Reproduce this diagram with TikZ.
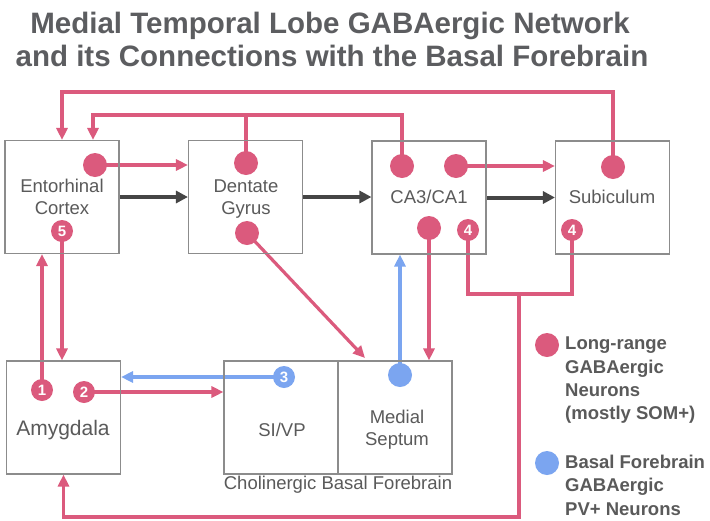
\documentclass[tikz,border=0pt]{standalone}
\usepackage{fontspec}
\setmainfont{Liberation Sans}
\usetikzlibrary{arrows.meta,calc}
\definecolor{gred}{HTML}{DB5A7D}
\definecolor{gblue}{HTML}{7BA5F0}
\definecolor{txt}{HTML}{5A5A5A}
\definecolor{ttl}{HTML}{5C5D60}
\definecolor{boxc}{HTML}{8C8C8C}
\definecolor{blk}{HTML}{454545}
\pgfdeclarelayer{bg}
\pgfsetlayers{bg,main}
\begin{document}
\begin{tikzpicture}[x=1pt,y=-1pt,
  regionbox/.style={draw=boxc, line width=1.1pt, minimum width=114pt, minimum height=113pt, inner sep=0pt},
  lbl/.style={text=txt, font=\fontsize{18.5}{22}\selectfont, align=center, inner sep=0pt},
  titletext/.style={text=ttl, font=\bfseries\fontsize{29.5}{34}\selectfont, inner sep=0pt, anchor=base},
  legtxt/.style={text=txt, font=\bfseries\fontsize{18.5}{23.3}\selectfont, align=left, inner sep=0pt, anchor=north west},
  rdot/.style={circle, fill=gred, minimum size=24pt, inner sep=0pt},
  bdot/.style={circle, fill=gblue, minimum size=24pt, inner sep=0pt},
  ndot/.style={circle, fill=gred, minimum size=22pt, inner sep=0pt, text=white, font=\bfseries\fontsize{15}{15}\selectfont},
  nbdot/.style={ndot, fill=gblue},
  rline/.style={draw=gred, line width=3.2pt},
  rarr/.style={rline, -{Triangle[length=12pt,width=11pt]}},
  barr/.style={draw=gblue, line width=3.2pt, -{Triangle[length=12pt,width=11pt]}},
  karr/.style={draw=blk, line width=4pt, -{Triangle[length=12pt,width=12pt]}}]
\useasboundingbox (0,0) rectangle (710,520);

% title
\node[titletext] (title1) at (330,33) {Medial Temporal Lobe GABAergic Network};
\node[titletext] (title2) at (332,66) {and its Connections with the Basal Forebrain};

% regions
\node[regionbox] (ec) at (62,197) {};
\node[regionbox] (dg) at (245.5,197) {};
\node[regionbox] (ca) at (429,197.5) {};
\node[regionbox] (sub) at (612.5,197.5) {};
\node[regionbox] (amy) at (63.5,417.5) {};
\node[regionbox] (sivp) at (281,417.5) {};
\node[regionbox] (ms) at (395,417.5) {};

% labels
\node[lbl] (ecl) at (62,197) {Entorhinal\\Cortex};
\node[lbl] (dgl) at (246,199) {Dentate\\Gyrus};
\node[lbl] (cal) at (429,197) {CA3/CA1};
\node[lbl] (subl) at (612,197) {Subiculum};
\node[lbl, font=\fontsize{21}{24}\selectfont] (amyl) at (63,430) {Amygdala};
\node[lbl] (sil) at (282,430) {SI/VP};
\node[lbl] (msl) at (397,430) {Medial\\Septum};
\node[lbl] (cbf) at (338,485) {Cholinergic Basal Forebrain};

% neuron dots
\node[rdot] (ec1) at (95,165) {};
\node[ndot] (ec5) at (62,231) {5};
\node[rdot] (dg1) at (246,163) {};
\node[rdot] (dg2) at (247,233) {};
\node[rdot] (ca1) at (402,166) {};
\node[rdot] (ca2) at (456,166) {};
\node[rdot] (ca3) at (429,228) {};
\node[ndot] (ca4) at (468,230) {4};
\node[rdot] (sub1) at (613,167) {};
\node[ndot] (sub4) at (572,230) {4};
\node[ndot] (amy1) at (42,390) {1};
\node[ndot] (amy2) at (84,392) {2};
\node[nbdot] (si3) at (284,377) {3};
\node[bdot] (ms1) at (400,375) {};

% legend
\node[rdot] (legr) at (547,345) {};
\node[legtxt] (legrt) at (565,337) {Long-range\\GABAergic\\Neurons\\(mostly SOM+)};
\node[bdot] (legb) at (547,463) {};
\node[legtxt] (legbt) at (565,455) {Basal Forebrain\\GABAergic\\PV+ Neurons};

\coordinate (t1c) at (62,92);
\coordinate (t2c) at (93,115);
\coordinate (j) at (519,294);
\coordinate (bb) at (519,517);
\coordinate (msin) at (365,358);

\begin{pgfonlayer}{bg}
\fill[white] (0,0) rectangle (710,520);
\draw[karr] (ec.east) -- (ec.east -| dg.west);
\draw[karr] (dg.east) -- (dg.east -| ca.west);
\draw[karr] (ca.east) -- (ca.east -| sub.west);

\draw[rarr] (sub1.center) |- (t1c) -- (t1c |- ec.north);
\draw[rarr] (ca1.center) |- (t2c) -- (t2c |- ec.north);
\draw[rline] (dg1.center) -- (dg1.center |- t2c);
\draw[rarr] (ec1.center) -- (ec1.center -| dg.west);
\draw[rarr] (ca2.center) -- (ca2.center -| sub.west);
\draw[rarr] (ca3.center) -- (ca3.center |- ms.north);
\draw[rarr] (dg2.center) -- (msin);
\draw[rline] (ca4.center) |- (j) -| (sub4.center);
\draw[rarr] (j) -- (bb) -| (amy.south);
\draw[rarr] (ec5.center) -- (ec5.center |- amy.north);
\draw[rarr] (amy1.center) -- (amy1.center |- ec.south);
\draw[rarr] (amy2.center) -- (amy2.center -| sivp.west);
\draw[barr] (si3.center) -- (si3.center -| amy.east);
\draw[barr] (ms1.center) -- (ms1.center |- ca.south);
\end{pgfonlayer}
\end{tikzpicture}
\end{document}
